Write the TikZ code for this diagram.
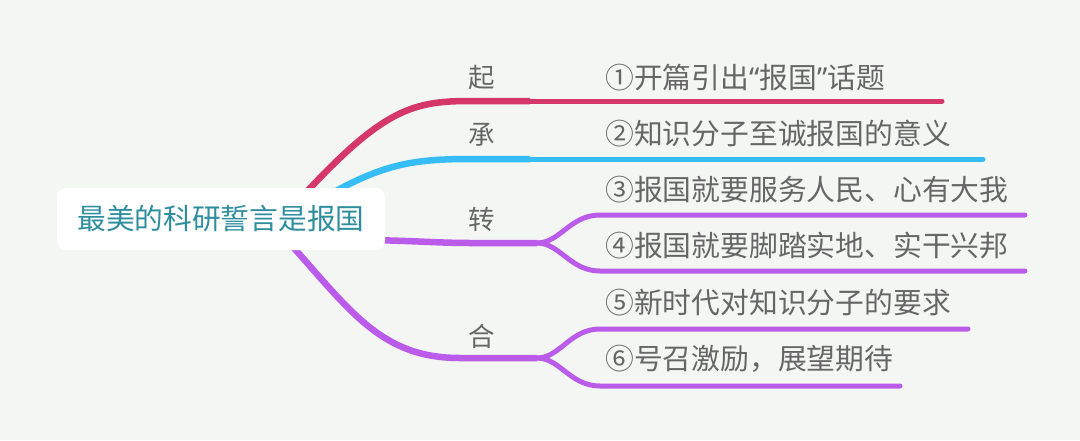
\documentclass[tikz,border=0pt]{standalone}
\usepackage{fontspec}
\newfontfamily\cjk{Noto Sans CJK SC}
\newfontfamily\lat{Noto Sans}
\definecolor{bg}{HTML}{F4F6F4}
\definecolor{cred}{HTML}{D63769}
\definecolor{cblue}{HTML}{36BDF5}
\definecolor{cpurple}{HTML}{BA5CE9}
\definecolor{cteal}{HTML}{2E8E9E}
\definecolor{cgray}{HTML}{666666}
\tikzset{
  mainline/.style={line width=6.5pt},
  subline/.style={line width=5pt, line cap=round},
  lbl/.style={font=\cjk\fontsize{26.5}{29}\selectfont, text=cgray, inner sep=0pt},
  item/.style={font=\cjk\fontsize{28.8}{31}\selectfont, text=cgray, inner sep=0pt, anchor=west},
  centre/.style={fill=white, rounded corners=9pt, minimum width=328pt, minimum height=62pt, font=\cjk\fontsize{28.7}{32}\selectfont, text=cteal}
}
\begin{document}
\begin{tikzpicture}[x=1pt,y=-1pt]
\fill[bg] (0,0) rectangle (1080,440);
\useasboundingbox (0,0) rectangle (1080,440);
% coordinates
\coordinate (sq) at (290,210);
\coordinate (sc) at (320,200);
\coordinate (sz) at (370,240);
\coordinate (sh) at (285,238);
\coordinate (q1) at (470,101);
\coordinate (q2) at (942,101);
\coordinate (c1) at (470,159);
\coordinate (c2) at (983,159);
\coordinate (z0) at (537,243);
\coordinate (za) at (600,215);
\coordinate (za2) at (1025,215);
\coordinate (zb) at (600,271);
\coordinate (zb2) at (1025,271);
\coordinate (h0) at (537,358);
\coordinate (ha) at (600,329);
\coordinate (ha2) at (968,329);
\coordinate (hb) at (600,386);
\coordinate (hb2) at (900,386);
% branches
\draw[mainline, cred] (sq) .. controls (380,110) and (410,101) .. (q1) -- (530,101);
\draw[subline, cred] (528,101) -- (q2);
\draw[mainline, cblue] (sc) .. controls (380,165) and (410,159) .. (c1) -- (530,159);
\draw[subline, cblue] (528,159) -- (c2);
\draw[mainline, cpurple] (sz) .. controls (420,241) and (440,243) .. (470,243) -- (z0);
\draw[subline, cpurple] (z0) .. controls (560,243) and (570,215) .. (za) -- (za2);
\draw[subline, cpurple] (z0) .. controls (560,243) and (570,271) .. (zb) -- (zb2);
\draw[mainline, cpurple] (sh) .. controls (350,310) and (380,358) .. (460,358) -- (h0);
\draw[subline, cpurple] (h0) .. controls (560,358) and (570,329) .. (ha) -- (ha2);
\draw[subline, cpurple] (h0) .. controls (560,358) and (570,386) .. (hb) -- (hb2);
% central node
\node[centre] (root) at (221,219) {最美的科研誓言是报国};
% labels
\node[lbl] (lq) at (482,78) {起};
\node[lbl] (lc) at (482,135) {承};
\node[lbl] (lz) at (482,219) {转};
\node[lbl] (lh) at (482,336) {合};
% items
\node[item] (i1) at (605,78) {①开篇引出{\lat“}报国{\lat”}话题};
\node[item] (i2) at (605,134) {②知识分子至诚报国的意义};
\node[item] (i3) at (605,190) {③报国就要服务人民、心有大我};
\node[item] (i4) at (605,246) {④报国就要脚踏实地、实干兴邦};
\node[item] (i5) at (605,303) {⑤新时代对知识分子的要求};
\node[item] (i6) at (605,359) {⑥号召激励，展望期待};
\end{tikzpicture}
\end{document}
